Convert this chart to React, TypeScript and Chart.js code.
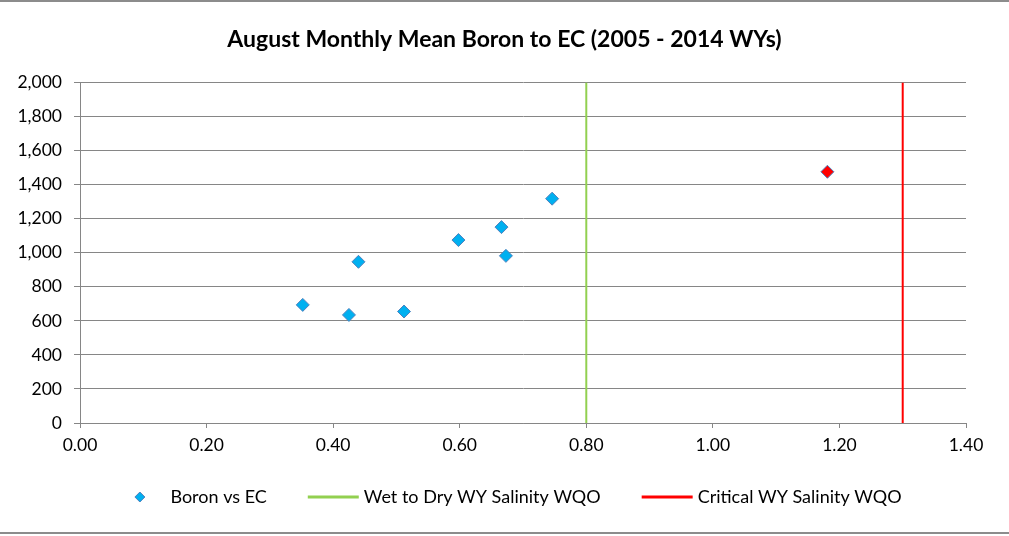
import React, { useEffect, useRef } from "react";
import { Chart, registerables } from "chart.js";

Chart.register(...registerables);

const chartTitle = "August Monthly Mean Boron to EC (2005 - 2014 WYs)";
const ecValues = [0.352, 0.425, 0.44, 0.512, 0.598, 0.666, 0.673, 0.746, 1.181];
const boronValues = [694, 635, 947, 655, 1075, 1151, 982, 1318, 1476];
const wetToDryWqo = 0.8;
const criticalWqo = 1.3;
const yRange = [0, 2000];
const xRange = [0, 1.4];
const seriesLabels = ["Boron vs EC", "Wet to Dry WY Salinity WQO", "Critical WY Salinity WQO"];

const FONT = "Lato, 'Open Sans', sans-serif";
const GRAY = "#868686";
const DIAMOND_FILL = "#00B0F0";
const DIAMOND_EDGE = "#4F81BD";
const GREEN = "#92D050";
const RED = "#FF0000";

const framePlugin = {
  id: "frame",
  beforeDraw(chart: any) {
    const { ctx, width, height } = chart;
    ctx.save();
    ctx.fillStyle = "#ffffff";
    ctx.fillRect(0, 0, width, height);
    ctx.fillStyle = "#8c8c8c";
    ctx.fillRect(0, 0, width, 2);
    ctx.fillRect(0, height - 4, width, 2);
    ctx.restore();
  },
};

const legendPlugin = {
  id: "customLegend",
  afterDraw(chart: any) {
    const { ctx } = chart;
    const datasets = chart.data.datasets;
    const symW = 51;
    const gapText = 5;
    const gapItem = 41;
    const y = 497;
    ctx.save();
    ctx.font = `18px ${FONT}`;
    const widths = datasets.map((d: any) => symW + gapText + ctx.measureText(d.label).width);
    const total = widths.reduce((a: number, b: number) => a + b, 0) + gapItem * (datasets.length - 1);
    let x = 508 - total / 2;
    datasets.forEach((d: any, i: number) => {
      const cx = x + symW / 2;
      if (d.legendKind === "diamond") {
        const r = 5;
        ctx.beginPath();
        ctx.moveTo(cx - r, y);
        ctx.lineTo(cx, y - r);
        ctx.lineTo(cx + r, y);
        ctx.lineTo(cx, y + r);
        ctx.closePath();
        ctx.fillStyle = DIAMOND_FILL;
        ctx.fill();
        ctx.lineWidth = 1;
        ctx.strokeStyle = DIAMOND_EDGE;
        ctx.stroke();
      } else {
        ctx.beginPath();
        ctx.moveTo(x, y);
        ctx.lineTo(x + symW, y);
        ctx.lineWidth = 3;
        ctx.strokeStyle = d.borderColor;
        ctx.stroke();
      }
      ctx.fillStyle = "#000";
      ctx.textBaseline = "middle";
      ctx.textAlign = "left";
      ctx.fillText(d.label, x + symW + gapText, y);
      x += widths[i] + gapItem;
    });
    ctx.restore();
  },
};

export default function App() {
  const canvasRef = useRef<HTMLCanvasElement | null>(null);

  useEffect(() => {
    if (!canvasRef.current) return;
    const points = ecValues.map((x, i) => ({ x, y: boronValues[i] }));
    const fills = ecValues.map((x) => (x > wetToDryWqo ? RED : DIAMOND_FILL));
    const chart = new Chart(canvasRef.current, {
      type: "scatter",
      data: {
        datasets: [
          {
            label: seriesLabels[0],
            data: points,
            pointStyle: "rectRot",
            pointRadius: 6.5,
            pointHoverRadius: 6.5,
            backgroundColor: fills,
            borderColor: DIAMOND_EDGE,
            borderWidth: 1,
            showLine: false,
            order: 0,
            legendKind: "diamond",
          } as any,
          {
            label: seriesLabels[1],
            data: [
              { x: wetToDryWqo, y: yRange[0] },
              { x: wetToDryWqo, y: yRange[1] },
            ],
            showLine: true,
            borderColor: GREEN,
            borderWidth: 2,
            pointRadius: 0,
            order: 1,
            legendKind: "line",
          } as any,
          {
            label: seriesLabels[2],
            data: [
              { x: criticalWqo, y: yRange[0] },
              { x: criticalWqo, y: yRange[1] },
            ],
            showLine: true,
            borderColor: RED,
            borderWidth: 2,
            pointRadius: 0,
            order: 1,
            legendKind: "line",
          } as any,
        ],
      },
      options: {
        animation: false,
        responsive: false,
        layout: { padding: { left: 0, right: 0, top: 0, bottom: 0 } },
        plugins: {
          legend: { display: false },
          tooltip: { enabled: false },
          title: {
            display: true,
            text: chartTitle,
            color: "#000",
            font: { family: FONT, size: 23, weight: "bold", lineHeight: 1.2 },
            padding: { top: 26, bottom: 29 },
          },
        },
        scales: {
          x: {
            type: "linear",
            min: xRange[0],
            max: xRange[1],
            grid: { color: "transparent", tickColor: GRAY, tickLength: 5, drawTicks: true },
            border: { display: true, color: GRAY, width: 1 },
            ticks: {
              stepSize: 0.2,
              color: "#000",
              font: { family: FONT, size: 17.5 },
              padding: 7,
              maxRotation: 0,
              callback: (v: any) => Number(v).toFixed(2),
            },
            afterFit: (axis: any) => {
              axis.height = 113;
            },
          },
          y: {
            type: "linear",
            min: yRange[0],
            max: yRange[1],
            grid: { color: GRAY, tickColor: GRAY, tickLength: 6 },
            border: { display: true, color: GRAY, width: 1 },
            ticks: {
              stepSize: 200,
              color: "#000",
              font: { family: FONT, size: 17.5 },
              padding: 12,
              callback: (v: any) => Number(v).toLocaleString("en-US"),
            },
            afterFit: (axis: any) => {
              axis.width = 80;
            },
          },
          yRight: {
            type: "linear",
            position: "right",
            display: true,
            min: yRange[0],
            max: yRange[1],
            grid: { display: false, drawOnChartArea: false },
            border: { display: false },
            ticks: { display: false },
            afterFit: (axis: any) => {
              axis.width = 43;
            },
          },
        },
      },
      plugins: [framePlugin, legendPlugin],
    });
    return () => chart.destroy();
  }, []);

  return (
    <div style={{ position: "absolute", left: 0, top: 0, width: 1009, height: 536 }}>
      <canvas ref={canvasRef} width={1009} height={536} />
    </div>
  );
}
